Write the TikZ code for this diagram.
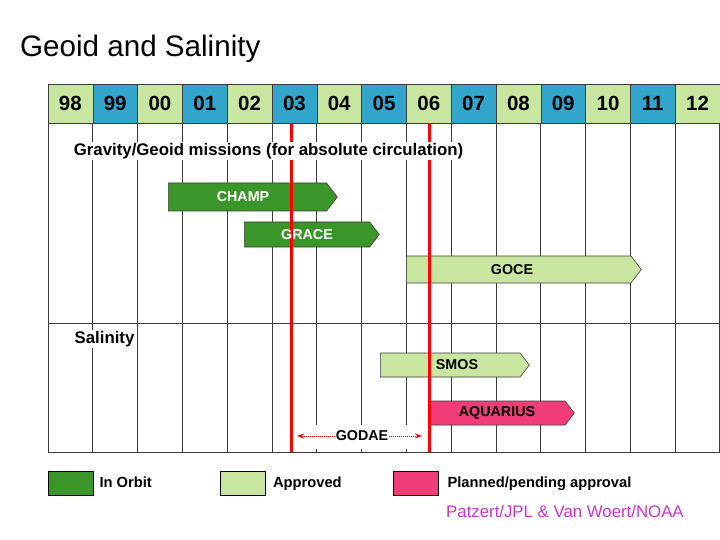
\documentclass[tikz,border=0pt]{standalone}
\usepackage{fontspec}
\setmainfont{Liberation Sans}
\usetikzlibrary{shapes.symbols,positioning,arrows.meta}

\definecolor{orbitgreen}{RGB}{58,150,40}
\definecolor{approvedgreen}{RGB}{200,230,160}
\definecolor{yearblue}{RGB}{50,165,205}
\definecolor{pendingpink}{RGB}{240,60,120}
\definecolor{creditpink}{RGB}{204,51,204}
\definecolor{gridgray}{RGB}{60,60,60}

\begin{document}
\begin{tikzpicture}[x=1pt,y=-1pt,
	yearcell/.style={draw=gridgray, minimum width=44.8pt, minimum height=39pt, inner sep=0pt, font=\fontsize{20.5}{22}\selectfont\bfseries},
	gridline/.style={gridgray, line width=0.9pt},
	section/.style={fill=white, inner sep=1.5pt, font=\fontsize{16.8}{18}\selectfont\bfseries},
	mission/.style={shape=signal, signal to=east, signal pointer angle=105, draw=gridgray, line width=0.6pt, inner sep=0pt, anchor=west},
	missionlabel/.style={font=\fontsize{14.3}{16}\selectfont\bfseries},
	today/.style={red, line width=3pt},
	godarrow/.style={red, densely dotted, line width=1pt, -{Stealth[length=7pt,width=5pt]}},
	keybox/.style={draw=black, line width=0.8pt, minimum width=45pt, minimum height=24pt, inner sep=0pt},
	keytext/.style={inner sep=0pt, text height=11pt, text depth=3pt, font=\fontsize{14.7}{16}\selectfont\bfseries}]
\useasboundingbox (0,0) rectangle (720,540);

\node[anchor=base west, inner sep=0pt, font=\fontsize{29.6}{32}\selectfont] (title) at (20,57) {Geoid and Salinity};

% year header
\foreach \yr [count=\i from 0] in {98,99,00,01,02,03,04,05,06,07,08,09,10,11,12} {
	\ifodd\i \def\cellcol{yearblue}\else \def\cellcol{approvedgreen}\fi
	\node[yearcell, fill=\cellcol] (yr\yr) at (48+44.8*\i+22.4,103.5) {\yr};
}

% grid
\foreach \i in {1,...,14}
	\draw[gridline] (48+44.8*\i,123) -- (48+44.8*\i,452);
\draw[gridline] (48,123) rectangle (719.5,452);
\draw[gridline] (48,323) -- (719.5,323);

% missions
\node[mission, fill=orbitgreen, minimum width=169pt, minimum height=28pt] (champ) at (168,197) {};
\node[mission, fill=orbitgreen, minimum width=135pt, minimum height=25pt] (grace) at (244,234.5) {};
\node[mission, fill=approvedgreen, minimum width=235pt, minimum height=27pt] (goce) at (406,269.5) {};
\node[mission, fill=approvedgreen, minimum width=149pt, minimum height=24pt] (smos) at (380,365) {};
\node[mission, fill=pendingpink, minimum width=144pt, minimum height=24pt] (aquarius) at (430,413) {};

% now lines
\draw[today] (291,123) -- (291,452);
\draw[today] (429,123) -- (429,452);

\node[section] (gravity) at (268.5,151) {Gravity/Geoid missions (for absolute circulation)};
\node[section] (salinity) at (104.5,339) {Salinity};

\node[missionlabel, text=white] (champtext) at (243,197) {CHAMP};
\node[missionlabel, text=white] (gracetext) at (307,234.5) {GRACE};
\node[missionlabel] (gocetext) at (512,269.5) {GOCE};
\node[missionlabel] (smostext) at (457,365) {SMOS};
\node[missionlabel] (aquariustext) at (497,413) {AQUARIUS};

\fill[white] (293,425) rectangle (427,449);
\node[missionlabel, fill=white, inner sep=1pt] (godae) at (362,436) {GODAE};
\coordinate (godaeleft) at (297,436);
\coordinate (godaeright) at (422,436);
\draw[godarrow] (godae.west) -- (godaeleft);
\draw[godarrow] (godae.east) -- (godaeright);

% legend
\node[keybox, fill=orbitgreen] (orbitkey) at (70.5,483) {};
\node[keytext, right=6pt of orbitkey] (orbittext) {In Orbit};
\node[keybox, fill=approvedgreen] (approvedkey) at (243,483) {};
\node[keytext, right=7pt of approvedkey] (approvedtext) {Approved};
\node[keybox, fill=pendingpink] (pendingkey) at (415.5,483) {};
\node[keytext, right=9pt of pendingkey] (pendingtext) {Planned/pending approval};

\node[anchor=west, inner sep=0pt, text=creditpink, font=\fontsize{16.8}{18}\selectfont] (credit) at (446,511) {Patzert/JPL \& Van Woert/NOAA};
\end{tikzpicture}
\end{document}
